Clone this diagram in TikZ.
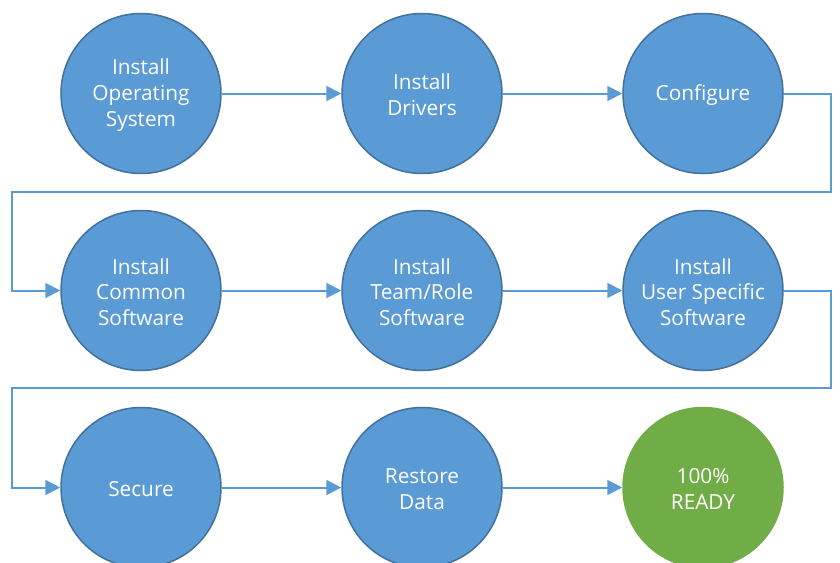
\documentclass[tikz,border=0pt]{standalone}
\usepackage{fontspec}
\setmainfont{Open Sans}
\usetikzlibrary{arrows.meta}
\definecolor{stepblue}{HTML}{5B9BD5}
\definecolor{stepedge}{HTML}{41719C}
\definecolor{readygreen}{HTML}{70AD47}
\begin{document}
\begin{tikzpicture}[x=1pt,y=-1pt,
  stepnode/.style={circle,minimum size=160pt,inner sep=0pt,fill=stepblue,draw=stepedge,line width=1.5pt},
  readynode/.style={stepnode,fill=readygreen,draw=readygreen},
  steptext/.style={text=white,align=center,inner sep=0pt,font=\fontsize{20.8}{25.8}\selectfont},
  flow/.style={draw=stepblue,line width=2pt,-{Triangle[length=15pt,width=15pt]}}]
\useasboundingbox (0,0) rectangle (840,562);
\node[stepnode] (n1) at (141,93.5) {};
\node[stepnode] (n2) at (422,93.5) {};
\node[stepnode] (n3) at (703,93.5) {};
\node[stepnode] (n4) at (141,290.5) {};
\node[stepnode] (n5) at (422,290.5) {};
\node[stepnode] (n6) at (703,290.5) {};
\node[stepnode] (n7) at (141,487.5) {};
\node[stepnode] (n8) at (422,487.5) {};
\node[readynode] (n9) at (703,487.5) {};
\node[steptext] (t1) at ([yshift=-1.5pt]n1.center) {Install\\Operating\\System};
\node[steptext] (t2) at ([yshift=-1.5pt]n2.center) {Install\\Drivers};
\node[steptext] (t3) at ([yshift=-1.5pt]n3.center) {Configure};
\node[steptext] (t4) at ([yshift=-1.5pt]n4.center) {Install\\Common\\Software};
\node[steptext] (t5) at ([yshift=-1.5pt]n5.center) {Install\\Team/Role\\Software};
\node[steptext] (t6) at ([yshift=-1.5pt]n6.center) {Install\\User Specific\\Software};
\node[steptext] (t7) at ([yshift=-1.5pt]n7.center) {Secure};
\node[steptext] (t8) at ([yshift=-1.5pt]n8.center) {Restore\\Data};
\node[steptext] (t9) at ([yshift=-1.5pt]n9.center) {100\%\\READY};
\draw[flow] (n1) -- (n2);
\draw[flow] (n2) -- (n3);
\draw[flow] (n3.east) -- ++(47,0) |- (12,192) |- (n4.west);
\draw[flow] (n4) -- (n5);
\draw[flow] (n5) -- (n6);
\draw[flow] (n6.east) -- ++(47,0) |- (12,388) |- (n7.west);
\draw[flow] (n7) -- (n8);
\draw[flow] (n8) -- (n9);
\end{tikzpicture}
\end{document}
